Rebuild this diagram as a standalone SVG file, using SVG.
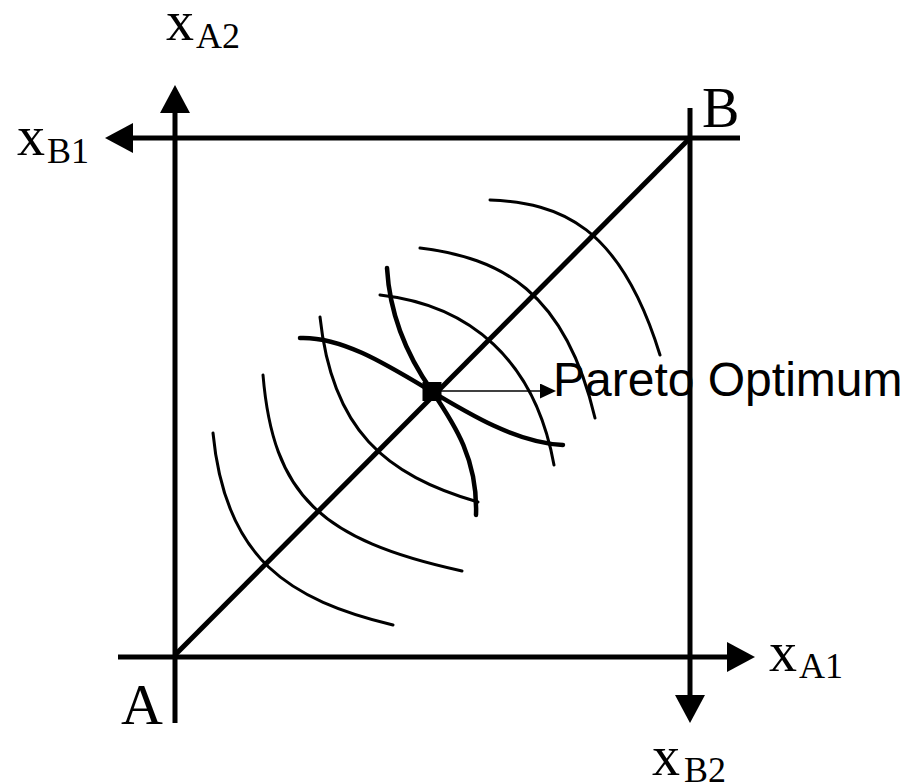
<svg xmlns="http://www.w3.org/2000/svg" width="906" height="784" viewBox="0 0 906 784">
<style>
.ax{stroke:#000;stroke-width:5;fill:none}
.thin{stroke:#000;stroke-width:3;fill:none;stroke-linecap:round}
.thick{stroke:#000;stroke-width:4.5;fill:none;stroke-linecap:round}
.serif{font-family:"Liberation Serif","Times New Roman",serif;fill:#000}
.sans{font-family:"Liberation Sans",Arial,sans-serif;fill:#000}
</style>
<defs>
<marker id="big" markerUnits="userSpaceOnUse" markerWidth="30" markerHeight="32" refX="0" refY="15" orient="auto">
<path d="M0,0 L28,15 L0,30 z" fill="#000"/>
</marker>
<marker id="small" markerUnits="userSpaceOnUse" markerWidth="18" markerHeight="16" refX="0" refY="7.5" orient="auto">
<path d="M0,0 L16,7.5 L0,15 z" fill="#000"/>
</marker>
</defs>
<rect width="906" height="784" fill="#fff"/>
<g id="axes">
<line class="ax" x1="118" y1="657" x2="727" y2="657" marker-end="url(#big)"/>
<line class="ax" x1="175" y1="723" x2="175" y2="113" marker-end="url(#big)"/>
<line class="ax" x1="740" y1="138" x2="133" y2="138" marker-end="url(#big)"/>
<line class="ax" x1="690" y1="108" x2="690" y2="695" marker-end="url(#big)"/>
<line class="ax" x1="175" y1="655" x2="690" y2="138"/>
</g>
<g id="curves">
<path class="thin" d="M213,433 C225,560 290,600 393,625"/>
<path class="thin" d="M263,375 C273,495 320,540 462,571"/>
<path class="thin" d="M320,317 C332,430 385,475 478,502"/>
<path class="thin" d="M380,295 C470,305 535,360 554,465"/>
<path class="thin" d="M420,248 C500,258 565,290 595,418"/>
<path class="thin" d="M490,200 C560,203 620,225 660,355"/>
<path class="thick" d="M300,338 C380,335 470,440 563,445"/>
<path class="thick" d="M387,268 C390,320 410,360 432,391 C455,425 478,460 476,515"/>
</g>
<g id="pareto">
<rect x="422.5" y="382" width="19" height="19" fill="#000"/>
<line x1="441" y1="391" x2="540" y2="391" stroke="#000" stroke-width="1.5" marker-end="url(#small)"/>
<text class="sans" x="553" y="396" font-size="48">Pareto Optimum</text>
</g>
<g id="labels">
<text class="serif" x="166" y="40" font-size="56">x<tspan x="196" y="48" font-size="36">A2</tspan></text>
<text class="serif" x="17" y="155" font-size="56">x<tspan x="47" y="163" font-size="36">B1</tspan></text>
<text class="serif" x="769" y="671" font-size="56">x<tspan x="799" y="678" font-size="36">A1</tspan></text>
<text class="serif" x="652" y="775" font-size="56">x<tspan x="684" y="782" font-size="36">B2</tspan></text>
<text class="serif" x="121" y="724" font-size="58">A</text>
<text class="serif" x="702" y="127" font-size="56">B</text>
</g>
</svg>
